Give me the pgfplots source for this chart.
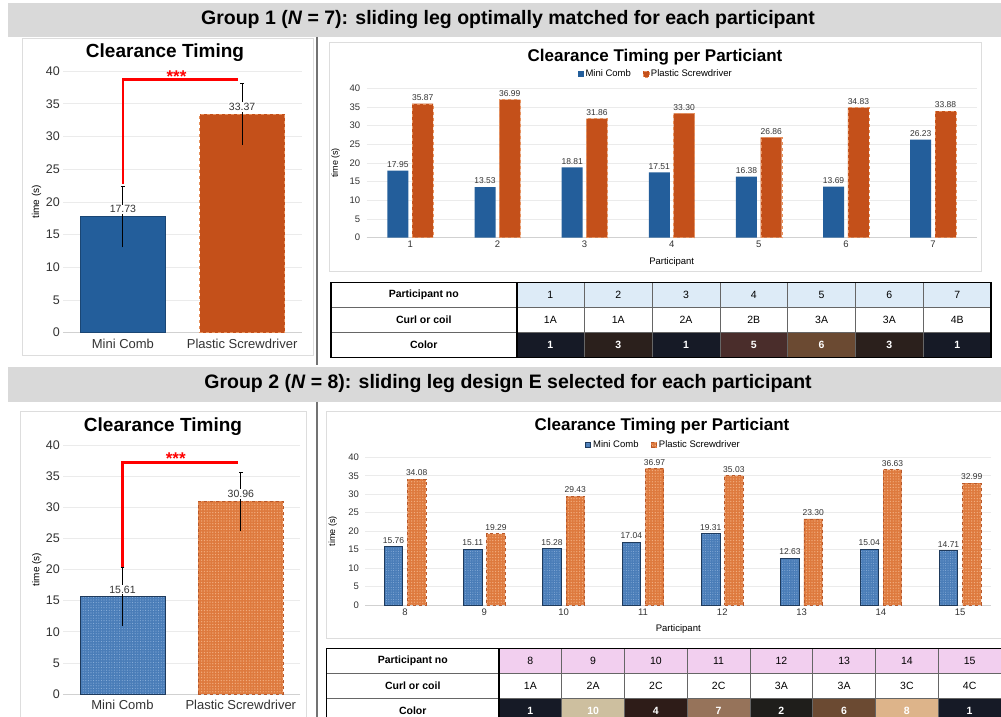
\documentclass[border=0pt]{standalone}
\usepackage{fontspec}
\setmainfont{Liberation Sans}
\usepackage{pgfplots}
\pgfplotsset{compat=1.18}
\usetikzlibrary{patterns.meta}
\newcommand\fs[1]{\fontsize{#1}{#1}\selectfont}
\definecolor{hdrgray}{HTML}{D9D9D9}
\definecolor{mcblue}{HTML}{235E9B}
\definecolor{psorange}{HTML}{C4501A}
\definecolor{psedge}{HTML}{E8915C}
\definecolor{mcblue2}{HTML}{4A7DB8}
\definecolor{mcdot}{HTML}{8DB0DB}
\definecolor{mcedge2}{HTML}{1E3A5C}
\definecolor{psorange2}{HTML}{DE7A3E}
\definecolor{psdot}{HTML}{F2AE80}
\definecolor{psedge2}{HTML}{B8582A}
\definecolor{gridc}{HTML}{EBEBEB}
\definecolor{framec}{HTML}{DDDDDD}
\definecolor{lblue}{HTML}{DDEBF7}
\definecolor{lpink}{HTML}{F2CFEF}
\definecolor{sk1}{HTML}{161A26}
\definecolor{sk2}{HTML}{1F1E1B}
\definecolor{sk3}{HTML}{2B201C}
\definecolor{sk4}{HTML}{2E1C18}
\definecolor{sk5}{HTML}{4A2D2B}
\definecolor{sk6}{HTML}{6B4A32}
\definecolor{sk7}{HTML}{96735A}
\definecolor{sk8}{HTML}{DDB48A}
\definecolor{sk10}{HTML}{CDBF9F}
\pgfplotsset{
  excel/.style={
    scale only axis, clip=false,
    axis x line=bottom, axis y line=left, separate axis lines,
    x axis line style={-, draw=black!18, line width=0.7pt},
    y axis line style={draw=none},
    major tick length=0pt,
    ymin=0, ymax=40, ytick={0,5,...,40},
    ymajorgrids, grid style={draw=gridc, line width=0.6pt},
    tick label style={text=black!80},
    /pgf/number format/assume math mode=true,
  },
  lbl/.style 2 args={nodes near coords, point meta=explicit symbolic,
    nodes near coords style={font=\fs{#1}, text=black!80, inner sep=1pt, anchor=south, yshift=2pt, xshift=#2}},
  sq legend/.style={legend image code/.code={\fill[##1] (0pt,-2.8pt) rectangle (5.6pt,2.8pt);}},
  nomark/.style={only marks, mark=*, mark size=0pt, mark options={draw=none, fill=none}},
  ebar/.style={black, solid, line width=0.9pt, mark=-, mark indices={2}, mark size=1.8pt, mark options={solid, line width=0.8pt}},
}
\begin{document}
\begin{tikzpicture}[x=1pt,y=1pt]
\useasboundingbox (0,0) rectangle (1001,717);
\clip (0,0) rectangle (1001,717);
\fill[white] (0,0) rectangle (1001,717);
% headers
\fill[hdrgray] (8,680) rectangle (1001,714);
\node[font=\bfseries\fs{19.5}] at (508,697) {Group 1 (\textit{N} = 7): sliding leg optimally matched for each participant};
\fill[hdrgray] (8,315) rectangle (1001,350);
\node[font=\bfseries\fs{19.5}] at (508,333) {Group 2 (\textit{N} = 8): sliding leg design E selected for each participant};
% dividers
\draw[black!55, line width=1.2pt] (317,680) -- (317,352);
\draw[black!55, line width=1.2pt] (317,315) -- (317,0);
% frames
\draw[framec, line width=0.8pt] (22.7,362) rectangle (313,679);
\draw[framec, line width=0.8pt] (329,446) rectangle (981.7,674.3);
\draw[framec, line width=0.8pt] (20.7,-3) rectangle (306,305.3);
\draw[framec, line width=0.8pt] (326.7,78.7) rectangle (1005,305.3);
% titles
\node[font=\bfseries\fs{19}] at (165,664.3) {Clearance Timing};
\node[font=\bfseries\fs{17}] at (655,660.3) {Clearance Timing per Particiant};
\node[font=\bfseries\fs{19}] at (163,290.3) {Clearance Timing};
\node[font=\bfseries\fs{17}] at (662,291) {Clearance Timing per Particiant};

% ---------- Group 1 left
\begin{axis}[excel, at={(63.3pt,384.3pt)}, anchor=south west, width=238.4pt, height=261.7pt,
  xmin=-0.5, xmax=1.5, xtick={0,1}, xticklabels={Mini Comb, Plastic Screwdriver},
  x tick label style={font=\fs{13}, yshift=-3pt},
  y tick label style={font=\fs{12.5}},
  ylabel={time (s)}, ylabel style={font=\fs{10}, at={(axis description cs:-0.112,0.5)}, anchor=center}]
\addplot[ybar, bar width=85pt, bar shift=0pt, fill=mcblue, draw=mcblue!75!black] coordinates {(0,17.73)};
\addplot[ybar, bar width=85pt, bar shift=0pt, fill=psorange, draw=psedge, dashed] coordinates {(1,33.37)};
\addplot[ebar] coordinates {(0,13.03) (0,22.43)};
\addplot[ebar] coordinates {(1,28.67) (1,38.07)};
\addplot[nomark, nodes near coords, point meta=explicit symbolic,
  nodes near coords style={font=\fs{10.5}, fill=white, inner sep=1pt, text=black!80, anchor=south, yshift=2.5pt}]
  coordinates {(0,17.73) [17.73] (1,33.37) [33.37]};
\addplot[red, line width=2.6pt, line join=miter] coordinates {(0,22.7) (0,38.7) (0.965,38.7)};
\node[text=red, font=\bfseries\fs{17}, anchor=center] at (axis cs:0.45,39.1) {***};
\end{axis}

% ---------- Group 1 right
\begin{axis}[excel, sq legend, at={(366.7pt,479.3pt)}, anchor=south west, width=610pt, height=149.4pt,
  xmin=0.5, xmax=7.5, xtick={1,...,7},
  tick label style={font=\fs{9.5}},
  y tick label style={xshift=-3pt},
  xlabel={Participant}, xlabel style={font=\fs{9.5}, at={(axis description cs:0.5,-0.161)}, anchor=center},
  ylabel={time (s)}, ylabel style={font=\fs{9}, at={(axis description cs:-0.051,0.5)}, anchor=center},
  legend style={at={(0.474,1.094)}, anchor=center, legend columns=2, draw=none, fill=none, font=\fs{9.5},
    inner sep=0pt, /tikz/every even column/.append style={column sep=10pt}}]
\addplot[ybar, bar width=21pt, bar shift=-12.4pt, fill=mcblue, draw=none, lbl={8.5}{-12.4pt}]
  coordinates {(1,17.95)[17.95] (2,13.53)[13.53] (3,18.81)[18.81] (4,17.51)[17.51] (5,16.38)[16.38] (6,13.69)[13.69] (7,26.23)[26.23]};
\addlegendentry{Mini Comb}
\addplot[ybar, bar width=21pt, bar shift=12.4pt, fill=psorange, draw=psedge, dashed, lbl={8.5}{12.4pt}]
  coordinates {(1,35.87)[35.87] (2,36.99)[36.99] (3,31.86)[31.86] (4,33.30)[33.30] (5,26.86)[26.86] (6,34.83)[34.83] (7,33.88)[33.88]};
\addlegendentry{Plastic Screwdriver}
\end{axis}

% ---------- Group 2 left
\begin{axis}[excel, at={(63.3pt,23pt)}, anchor=south west, width=236.7pt, height=249pt,
  xmin=-0.5, xmax=1.5, xtick={0,1}, xticklabels={Mini Comb, Plastic Screwdriver},
  x tick label style={font=\fs{13}, yshift=-3pt},
  y tick label style={font=\fs{12.5}},
  ylabel={time (s)}, ylabel style={font=\fs{10}, at={(axis description cs:-0.112,0.5)}, anchor=center}]
\addplot[ybar, bar width=85pt, bar shift=0pt, fill=mcblue2, draw=mcedge2, line width=0.8pt,
  postaction={pattern={Dots[radius=0.55pt, distance=2.6pt]}, pattern color=mcdot}] coordinates {(0,15.61)};
\addplot[ybar, bar width=85pt, bar shift=0pt, fill=psorange2, draw=psedge2, dashed, line width=0.8pt,
  postaction={pattern={Dots[radius=0.7pt, distance=2.8pt]}, pattern color=psdot}] coordinates {(1,30.96)};
\addplot[ebar] coordinates {(0,10.91) (0,20.31)};
\addplot[ebar] coordinates {(1,26.26) (1,35.66)};
\addplot[nomark, nodes near coords, point meta=explicit symbolic,
  nodes near coords style={font=\fs{10.5}, fill=white, inner sep=1pt, text=black!80, anchor=south, yshift=2.5pt}]
  coordinates {(0,15.61) [15.61] (1,30.96) [30.96]};
\addplot[red, line width=2.6pt, line join=miter] coordinates {(0,20.45) (0,37.2) (0.977,37.2)};
\node[text=red, font=\bfseries\fs{17}, anchor=center] at (axis cs:0.45,37.8) {***};
\end{axis}

% ---------- Group 2 right
\begin{axis}[excel, sq legend, at={(365.4pt,112pt)}, anchor=south west, width=625.7pt, height=147.7pt,
  xmin=7.5, xmax=15.39, xtick={8,...,15},
  tick label style={font=\fs{9.5}},
  y tick label style={xshift=-3pt},
  xlabel={Participant}, xlabel style={font=\fs{9.5}, at={(axis description cs:0.5,-0.16)}, anchor=center},
  ylabel={time (s)}, ylabel style={font=\fs{9}, at={(axis description cs:-0.052,0.5)}, anchor=center},
  legend style={at={(0.476,1.083)}, anchor=center, legend columns=2, draw=none, fill=none, font=\fs{9.5},
    inner sep=0pt, /tikz/every even column/.append style={column sep=10pt}}]
\addplot[ybar, bar width=18.5pt, bar shift=-11.6pt, fill=mcblue2, draw=mcedge2, line width=0.8pt, lbl={8.5}{-11.6pt},
  postaction={pattern={Dots[radius=0.5pt, distance=2.4pt]}, pattern color=mcdot}]
  coordinates {(8,15.76)[15.76] (9,15.11)[15.11] (10,15.28)[15.28] (11,17.04)[17.04] (12,19.31)[19.31] (13,12.63)[12.63] (14,15.04)[15.04] (15,14.71)[14.71]};
\addlegendentry{Mini Comb}
\addplot[ybar, bar width=18.5pt, bar shift=11.6pt, fill=psorange2, draw=psedge2, dashed, line width=0.8pt, lbl={8.5}{11.6pt},
  postaction={pattern={Dots[radius=0.7pt, distance=2.8pt]}, pattern color=psdot}]
  coordinates {(8,34.08)[34.08] (9,19.29)[19.29] (10,29.43)[29.43] (11,36.97)[36.97] (12,35.03)[35.03] (13,23.30)[23.30] (14,36.63)[36.63] (15,32.99)[32.99]};
\addlegendentry{Plastic Screwdriver}
\end{axis}

% ---------- Table 1
\fill[white] (331,359.5) rectangle (991,434.5);
\foreach \pa/\pb/\pc/\pd [count=\i from 0] in {1/1A/sk1/1, 2/1A/sk3/3, 3/2A/sk1/1, 4/2B/sk5/5, 5/3A/sk6/6, 6/3A/sk3/3, 7/4B/sk1/1}{
  \pgfmathsetmacro\xa{516.5+\i*67.8}
  \pgfmathsetmacro\xb{\xa+67.8}
  \pgfmathsetmacro\xm{\xa+33.9}
  \fill[lblue] (\xa,434.5) rectangle (\xb,409.5);
  \fill[\pc] (\xa,384.5) rectangle (\xb,359.5);
  \node[font=\fs{10.5}] at (\xm,422) {\pa};
  \node[font=\fs{10.5}] at (\xm,397) {\pb};
  \node[font=\bfseries\fs{10.5}, text=white] at (\xm,372) {\pd};
  \ifnum\i>0 \draw[black!60, line width=0.6pt] (\xa,434.5) -- (\xa,359.5); \fi
}
\draw[black!60, line width=0.6pt] (331,409.5) -- (991,409.5) (331,384.5) -- (991,384.5);
\draw[black, line width=2pt] (516.5,434.5) -- (516.5,359.5);
\draw[black, line width=1.1pt] (331,359.5) rectangle (991,434.5);
\node[font=\bfseries\fs{10.5}] at (423.75,422) {Participant no};
\node[font=\bfseries\fs{10.5}] at (423.75,397) {Curl or coil};
\node[font=\bfseries\fs{10.5}] at (423.75,372) {Color};

% ---------- Table 2
\fill[white] (326.5,-6.5) rectangle (1003,68.5);
\foreach \pa/\pb/\pc/\pd [count=\i from 0] in {8/1A/sk1/1, 9/2A/sk10/10, 10/2C/sk4/4, 11/2C/sk7/7, 12/3A/sk2/2, 13/3A/sk6/6, 14/3C/sk8/8, 15/4C/sk1/1}{
  \pgfmathsetmacro\xa{499+\i*62.75}
  \pgfmathsetmacro\xb{\xa+62.75}
  \pgfmathsetmacro\xm{\xa+31.375}
  \fill[lpink] (\xa,68.5) rectangle (\xb,43.5);
  \fill[\pc] (\xa,18.5) rectangle (\xb,-6.5);
  \node[font=\fs{10.5}] at (\xm,56) {\pa};
  \node[font=\fs{10.5}] at (\xm,31) {\pb};
  \node[font=\bfseries\fs{10.5}, text=white] at (\xm,6) {\pd};
  \ifnum\i>0 \draw[black!60, line width=0.6pt] (\xa,68.5) -- (\xa,-6.5); \fi
}
\draw[black!60, line width=0.6pt] (326.5,43.5) -- (1003,43.5) (326.5,18.5) -- (1003,18.5);
\draw[black, line width=2pt] (499,68.5) -- (499,-6.5);
\draw[black, line width=1.1pt] (326.5,-6.5) rectangle (1003,68.5);
\node[font=\bfseries\fs{10.5}] at (412.75,56) {Participant no};
\node[font=\bfseries\fs{10.5}] at (412.75,31) {Curl or coil};
\node[font=\bfseries\fs{10.5}] at (412.75,6) {Color};
\end{tikzpicture}
\end{document}
